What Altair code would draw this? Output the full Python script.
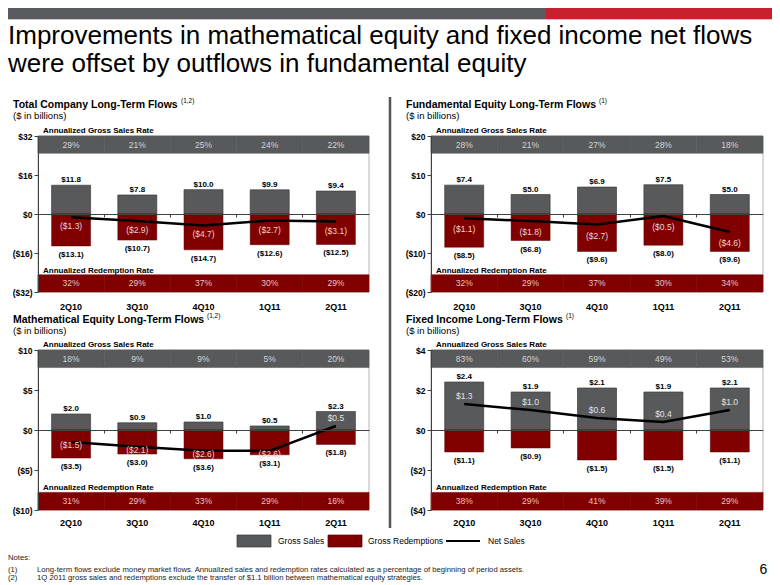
import altair as alt
import pandas as pd

# ---------------- data ----------------
QUARTERS = ["2Q10", "3Q10", "4Q10", "1Q11", "2Q11"]

TITLE_LINES = [
    "Improvements in mathematical equity and fixed income net flows",
    "were offset by outflows in fundamental equity",
]
SUBTITLE = "($ in billions)"
SALES_RATE_LABEL = "Annualized Gross Sales Rate"
REDEMPTION_RATE_LABEL = "Annualized Redemption Rate"

TOTAL_TITLE = "Total Company Long-Term Flows"
TOTAL_NOTE = "(1,2)"
TOTAL_GROSS_SALES = [11.8, 7.8, 10.0, 9.9, 9.4]
TOTAL_GROSS_REDEMPTIONS = [13.1, 10.7, 14.7, 12.6, 12.5]
TOTAL_NET_SALES = [-1.3, -2.9, -4.7, -2.7, -3.1]
TOTAL_SALES_RATE = [29, 21, 25, 24, 22]
TOTAL_REDEMPTION_RATE = [32, 29, 37, 30, 29]
TOTAL_TICKS = [32, 16, 0, -16, -32]

FUND_TITLE = "Fundamental Equity Long-Term Flows"
FUND_NOTE = "(1)"
FUND_GROSS_SALES = [7.4, 5.0, 6.9, 7.5, 5.0]
FUND_GROSS_REDEMPTIONS = [8.5, 6.8, 9.6, 8.0, 9.6]
FUND_NET_SALES = [-1.1, -1.8, -2.7, -0.5, -4.6]
FUND_SALES_RATE = [28, 21, 27, 28, 18]
FUND_REDEMPTION_RATE = [32, 29, 37, 30, 34]
FUND_TICKS = [20, 10, 0, -10, -20]

MATH_TITLE = "Mathematical Equity Long-Term Flows"
MATH_NOTE = "(1,2)"
MATH_GROSS_SALES = [2.0, 0.9, 1.0, 0.5, 2.3]
MATH_GROSS_REDEMPTIONS = [3.5, 3.0, 3.6, 3.1, 1.8]
MATH_NET_SALES = [-1.5, -2.1, -2.6, -2.6, 0.5]
MATH_SALES_RATE = [18, 9, 9, 5, 20]
MATH_REDEMPTION_RATE = [31, 29, 33, 29, 16]
MATH_TICKS = [10, 5, 0, -5, -10]

FIXED_TITLE = "Fixed Income Long-Term Flows"
FIXED_NOTE = "(1)"
FIXED_GROSS_SALES = [2.4, 1.9, 2.1, 1.9, 2.1]
FIXED_GROSS_REDEMPTIONS = [1.1, 0.9, 1.5, 1.5, 1.1]
FIXED_NET_SALES = [1.3, 1.0, 0.6, 0.4, 1.0]
FIXED_SALES_RATE = [83, 60, 59, 49, 53]
FIXED_REDEMPTION_RATE = [38, 29, 41, 39, 29]
FIXED_TICKS = [4, 2, 0, -2, -4]

LEGEND_LABELS = ["Gross Sales", "Gross Redemptions", "Net Sales"]
NOTES_HEADER = "Notes:"
NOTE_MARKS = ["(1)", "(2)"]
NOTE_TEXTS = [
    "Long-term flows exclude money market flows.  Annualized sales and redemption rates calculated as a percentage of beginning of period assets.",
    "1Q 2011 gross sales and redemptions exclude the transfer of $1.1 billion between mathematical equity strategies.",
]
PAGE_NUMBER = "6"

# ---------------- style / layout ----------------
W, H = 764, 575
FONT = "Liberation Sans, Arial, Helvetica, sans-serif"
FONT_N = "Liberation Sans Narrow, Arial Narrow, Liberation Sans, Arial, sans-serif"
GRAY = "#58595b"
RED = "#800000"
HEADER_GRAY = "#595b5e"
HEADER_RED = "#c8212e"
AXIS_COLOR = "#404040"


def one():
    return alt.Data(values=[{"k": 0}])


def text_at(s, x, y, size, weight="normal", align="left", baseline="alphabetic",
            color="#000000", font=FONT_N):
    return alt.Chart(one()).mark_text(
        text=s, align=align, baseline=baseline, fontSize=size,
        fontWeight=weight, color=color, font=font
    ).encode(x=alt.value(x), y=alt.value(y))


def rect_at(x0, x1, y0, y1, color):
    return alt.Chart(one()).mark_rect(color=color).encode(
        x=alt.value(x0), x2=alt.value(x1), y=alt.value(y0), y2=alt.value(y1))


def money(v):
    return f"(${abs(v):.1f})" if v < 0 else f"${v:.1f}"


def panel(title, note, note_x, gs, gr, net, srate, rrate, ticks, x0, x1,
          ybot, ytop, tx, ty, neg_dy):
    D = ticks[0]
    df = pd.DataFrame({
        "q": QUARTERS,
        "gs": gs,
        "gr": [-v for v in gr],
        "net": net,
        "zero": [0] * len(QUARTERS),
        "gs_lbl": [money(v) for v in gs],
        "gr_lbl": [money(-v) for v in gr],
        "net_lbl": [money(v) for v in net],
        "srate": [f"{v}%" for v in srate],
        "rrate": [f"{v}%" for v in rrate],
        "top": [D] * 5,
        "gband": [0.78 * D] * 5,
        "gmid": [0.89 * D] * 5,
        "rband": [-0.78 * D] * 5,
        "rmid": [-0.89 * D] * 5,
        "bot": [-D] * 5,
    })
    zero_y = (ybot + ytop) / 2
    xs = alt.Scale(domain=QUARTERS, range=[x0, x1], paddingInner=0, paddingOuter=0)
    ys = alt.Scale(domain=[-D, D], range=[ybot, ytop], nice=False, zero=False)
    xaxis = alt.Axis(orient="bottom", offset=-(H - zero_y), bandPosition=0,
                     labelPadding=85, tickSize=3,
                     tickColor=AXIS_COLOR, domainColor=AXIS_COLOR, labelAngle=0,
                     labelFont=FONT_N, labelFontSize=9, labelFontWeight="bold",
                     labelColor="#000000", title=None, grid=False, zindex=1)
    yaxis = alt.Axis(orient="left", offset=-x0, values=ticks,
                     labelExpr="datum.value < 0 ? '($' + (-datum.value) + ')' : '$' + datum.value",
                     tickSize=4, tickColor=AXIS_COLOR, domainColor=AXIS_COLOR,
                     labelFont=FONT_N, labelFontSize=8.5, labelFontWeight="bold",
                     labelColor="#000000", labelPadding=2, title=None, grid=False,
                     zindex=1)

    def X():
        return alt.X("q:N", scale=xs, axis=xaxis)

    def Y(f):
        return alt.Y(f + ":Q", scale=ys, axis=yaxis)

    base = alt.Chart(df)
    first = alt.Chart(df.iloc[:1])

    frame = first.mark_rect(fillOpacity=0, stroke="#b5b5b5", strokeWidth=1).encode(
        x=alt.value(x0), x2=alt.value(x1), y=Y("top"), y2=alt.Y2("bot"))
    gband = base.mark_rect(color=GRAY, stroke=GRAY, strokeWidth=0.6).encode(
        x=X(), y=Y("top"), y2=alt.Y2("gband"))
    rband = base.mark_rect(color=RED, stroke=RED, strokeWidth=0.6).encode(
        x=X(), y=Y("rband"), y2=alt.Y2("bot"))
    stext = base.mark_text(font=FONT_N, fontSize=8.5, color="#d4d4d4", baseline="middle").encode(
        x=X(), y=Y("gmid"), text="srate:N")
    rtext = base.mark_text(font=FONT_N, fontSize=8.5, color="#e8c2c2", baseline="middle").encode(
        x=X(), y=Y("rmid"), text="rrate:N")
    gs_bar = base.mark_bar(size=39, color=GRAY, stroke="#3c3c3c", strokeWidth=0.7).encode(
        x=X(), y=Y("gs"), y2=alt.Y2("zero"))
    gr_bar = base.mark_bar(size=39, color=RED, stroke="#5a0000", strokeWidth=0.5).encode(
        x=X(), y=Y("gr"), y2=alt.Y2("zero"))
    line = base.mark_line(color="#000000", strokeWidth=2.5).encode(
        x=X(), y=Y("net"))
    gs_lbl = base.mark_text(font=FONT_N, fontSize=8, fontWeight="bold", dy=-3,
                            baseline="alphabetic").encode(x=X(), y=Y("gs"), text="gs_lbl:N")
    gr_lbl = base.mark_text(font=FONT_N, fontSize=8, fontWeight="bold", dy=9,
                            baseline="middle").encode(x=X(), y=Y("gr"), text="gr_lbl:N")
    net_neg = base.transform_filter("datum.net < 0").mark_text(
        font=FONT_N, fontSize=8.5, color="#f0d2d2", dy=neg_dy, baseline="middle").encode(
        x=X(), y=Y("net"), text="net_lbl:N")
    net_pos = base.transform_filter("datum.net >= 0").mark_text(
        font=FONT_N, fontSize=8.5, color="#e2e2e2", dy=-8, baseline="middle").encode(
        x=X(), y=Y("net"), text="net_lbl:N")
    s_title = first.mark_text(text=SALES_RATE_LABEL, font=FONT_N, fontSize=8,
                              fontWeight="bold", align="left", baseline="alphabetic",
                              dy=-3).encode(x=alt.value(x0 + 5), y=Y("top"))
    r_title = first.mark_text(text=REDEMPTION_RATE_LABEL, font=FONT_N, fontSize=8,
                              fontWeight="bold", align="left", baseline="alphabetic",
                              dy=-2).encode(x=alt.value(x0 + 5), y=Y("rband"))
    inner = alt.layer(frame, gband, rband, stext, rtext, gs_bar, gr_bar, line,
                      gs_lbl, gr_lbl, net_neg, net_pos, s_title, r_title)
    titles = [
        text_at(title, tx, ty, 10.5, weight="bold"),
        text_at(note, note_x, ty - 5, 6.5),
        text_at(SUBTITLE, tx, ty + 11, 9.5),
    ]
    return [inner] + titles


LX0, LX1 = 30, 361
RX0, RX1 = 423, 755
TOP_B, TOP_T = 284, 128
BOT_B, BOT_T = 502, 342

layers = [
    rect_at(0, 538, 0, 11, HEADER_GRAY),
    rect_at(538, W, 0, 11, HEADER_RED),
    alt.Chart(one()).mark_rule(color="#c8c8c8", strokeWidth=1).encode(
        x=alt.value(0), x2=alt.value(W), y=alt.value(11.5)),
    text_at(TITLE_LINES[0], 0, 36, 26, font=FONT),
    text_at(TITLE_LINES[1], 0, 64, 26, font=FONT),
]
layers += panel(TOTAL_TITLE, TOTAL_NOTE, 173, TOTAL_GROSS_SALES, TOTAL_GROSS_REDEMPTIONS,
                TOTAL_NET_SALES, TOTAL_SALES_RATE, TOTAL_REDEMPTION_RATE, TOTAL_TICKS,
                LX0, LX1, TOP_B, TOP_T, 5, 100, 9)
layers += panel(FUND_TITLE, FUND_NOTE, 591, FUND_GROSS_SALES, FUND_GROSS_REDEMPTIONS,
                FUND_NET_SALES, FUND_SALES_RATE, FUND_REDEMPTION_RATE, FUND_TICKS,
                RX0, RX1, TOP_B, TOP_T, 398, 100, 11)
layers += panel(MATH_TITLE, MATH_NOTE, 199, MATH_GROSS_SALES, MATH_GROSS_REDEMPTIONS,
                MATH_NET_SALES, MATH_SALES_RATE, MATH_REDEMPTION_RATE, MATH_TICKS,
                LX0, LX1, BOT_B, BOT_T, 5, 315, 3)
layers += panel(FIXED_TITLE, FIXED_NOTE, 558, FIXED_GROSS_SALES, FIXED_GROSS_REDEMPTIONS,
                FIXED_NET_SALES, FIXED_SALES_RATE, FIXED_REDEMPTION_RATE, FIXED_TICKS,
                RX0, RX1, BOT_B, BOT_T, 398, 315, 11)

# separator
layers.append(alt.Chart(one()).mark_rule(color="#555555", strokeWidth=2.5).encode(
    x=alt.value(382), y=alt.value(89), y2=alt.value(520)))

# legend
layers += [
    alt.Chart(one()).mark_rect(color=GRAY, stroke="#333333", strokeWidth=0.7).encode(
        x=alt.value(229), x2=alt.value(263), y=alt.value(527), y2=alt.value(539)),
    text_at(LEGEND_LABELS[0], 270, 533, 8.5, baseline="middle"),
    alt.Chart(one()).mark_rect(color=RED, stroke="#5a0000", strokeWidth=0.7).encode(
        x=alt.value(320), x2=alt.value(354), y=alt.value(527), y2=alt.value(539)),
    text_at(LEGEND_LABELS[1], 360, 533, 8.5, baseline="middle"),
    alt.Chart(one()).mark_rule(color="#000000", strokeWidth=2).encode(
        x=alt.value(438), x2=alt.value(472), y=alt.value(533)),
    text_at(LEGEND_LABELS[2], 480, 533, 8.5, baseline="middle"),
]

# notes
NOTE_COLOR = "#222222"
layers += [
    text_at(NOTES_HEADER, 0, 550, 7.7, baseline="middle", font=FONT, color=NOTE_COLOR),
    text_at(NOTE_MARKS[0], 0, 562, 7.7, baseline="middle", font=FONT, color=NOTE_COLOR),
    text_at(NOTE_TEXTS[0], 29, 562, 7.7, baseline="middle", font=FONT, color=NOTE_COLOR),
    text_at(NOTE_MARKS[1], 0, 570, 7.7, baseline="middle", font=FONT, color=NOTE_COLOR),
    text_at(NOTE_TEXTS[1], 29, 570, 7.7, baseline="middle", font=FONT, color=NOTE_COLOR),
    text_at(PAGE_NUMBER, 755.5, 562, 14, align="center", baseline="middle", font=FONT),
]

chart = alt.layer(*layers).resolve_scale(
    x="independent", y="independent"
).resolve_axis(
    x="independent", y="independent"
).properties(
    width=W, height=H, autosize=alt.AutoSizeParams(type="none"), padding=0
).configure_view(strokeOpacity=0)

chart.save("out.html", embed_options={"renderer": "svg", "actions": False})
